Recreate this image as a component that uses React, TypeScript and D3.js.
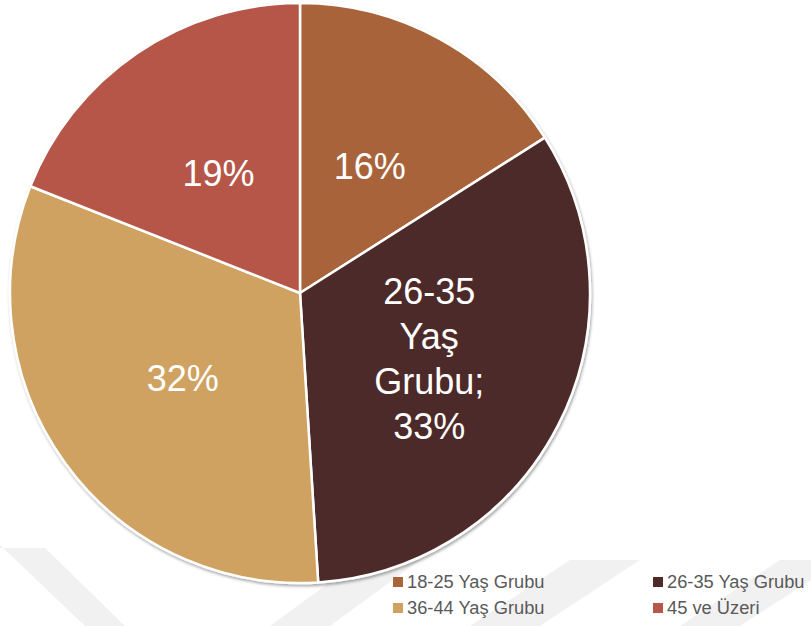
import React from "react";
import * as d3 from "d3";

const categories = ["18-25 Yaş Grubu", "26-35 Yaş Grubu", "36-44 Yaş Grubu", "45 ve Üzeri"];
const values = [16, 33, 32, 19];
const colors = ["#A9643A", "#4E2A29", "#CFA262", "#B5574A"];
const sliceLabels = [["16%"], ["26-35", "Yaş", "Grubu;", "33%"], ["32%"], ["19%"]];

const W = 811;
const H = 626;
const cx = 300;
const cy = 293;
const R = 290;

export default function App() {
  const pie = d3.pie<number>().sort(null).value((d) => d)(values);
  const arc = d3.arc<d3.PieArcDatum<number>>().innerRadius(0).outerRadius(R);
  const legendPos = [
    [393, 582],
    [653, 582],
    [393, 608],
    [653, 608],
  ];
  return (
    <svg
      width={W}
      height={H}
      style={{ position: "absolute", left: 0, top: 0, background: "#fff" }}
      fontFamily="'Liberation Sans', Arial, sans-serif"
    >
      <defs>
        <filter id="sh" x="-10%" y="-10%" width="120%" height="120%">
          <feDropShadow dx="1" dy="2" stdDeviation="1.5" floodColor="#000" floodOpacity="0.35" />
        </filter>
      </defs>
      {/* faint watermark */}
      <g fill="#F1F1F1">
        <polygon points="0,548 45,548 125,626 85,626 0,545" />
        <polygon points="270,626 330,626 420,560 360,560" />
        <polygon points="470,626 540,626 640,560 570,560" />
        <polygon points="680,626 740,626 811,580 811,560 780,560" />
      </g>
      <g transform={`translate(${cx},${cy})`}>
        <g filter="url(#sh)">
          {pie.map((p, i) => (
            <path key={i} d={arc(p) || ""} fill={colors[i]} stroke="#fff" strokeWidth={2.5} strokeLinejoin="round" />
          ))}
        </g>
        {pie.map((p, i) => {
          const [x, y] = arc.centroid(p);
          const lines = sliceLabels[i];
          const lh = 45;
          const y0 = y - ((lines.length - 1) * lh) / 2;
          return (
            <text key={i} fill="#fff" fontSize={36} textAnchor="middle">
              {lines.map((t, j) => (
                <tspan key={j} x={x} y={y0 + j * lh} dy="0.35em">
                  {t}
                </tspan>
              ))}
            </text>
          );
        })}
      </g>
      <g>
        {categories.map((c, i) => (
          <g key={c} transform={`translate(${legendPos[i][0]},${legendPos[i][1]})`}>
            <rect x={0} y={-5} width={10} height={10} fill={colors[i]} />
            <text x={14} y={0} dy="0.35em" fontSize={18.3} fill="#595959">
              {c}
            </text>
          </g>
        ))}
      </g>
    </svg>
  );
}
